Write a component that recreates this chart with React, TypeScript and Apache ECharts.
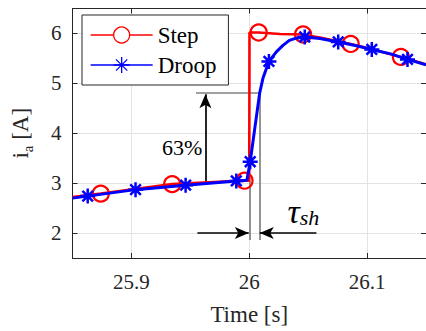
import React, { useEffect, useRef } from 'react';
import * as echarts from 'echarts';

// Step response (red, circles)
const stepTime = [25.85, 25.874, 25.9346, 25.996, 26.0, 26.0002, 26.008, 26.026, 26.0457, 26.062, 26.0861, 26.1, 26.1287, 26.15];
const stepCurrent = [2.72, 2.79, 2.98, 3.05, 3.05, 6.02, 6.02, 5.99, 5.98, 5.91, 5.79, 5.71, 5.53, 5.38];
const stepMarker = [0, 1, 1, 1, 0, 0, 1, 0, 1, 0, 1, 0, 1, 0];

// Droop response (blue, asterisks)
const droopTime = [25.85, 25.8629, 25.9035, 25.946, 25.989, 25.998, 26.0008, 26.0088, 26.0116, 26.0167, 26.023, 26.0286, 26.034, 26.0405, 26.0471, 26.06, 26.0755, 26.09, 26.104, 26.12, 26.1343, 26.15];
const droopCurrent = [2.7, 2.74, 2.87, 2.96, 3.045, 3.06, 3.43, 4.8, 5.1, 5.44, 5.63, 5.76, 5.86, 5.91, 5.93, 5.9, 5.83, 5.76, 5.68, 5.59, 5.48, 5.37];
const droopMarker = [0, 1, 1, 1, 1, 0, 1, 0, 0, 1, 0, 0, 0, 0, 1, 0, 1, 0, 1, 0, 1, 0];

// Axis ranges
const xRange = [25.85, 26.15];
const yRange = [1.5, 6.5];

// Annotation values
const level63 = 4.82;
const tStep = 26.0;
const tTau = 26.0085;
const arrowT = 25.9628;
const arrowBase = 3.0;
const arrowTip = 4.78;
const tauArrowY = 2.0;
const tauLeftStart = 25.956;
const tauRightStart = 26.057;
const guideBottom = 1.86;
const label63 = [25.9431, 3.716];
const labelTau = [26.046, 2.43];

const SERIF = 'Liberation Serif, Times New Roman, serif';
const AXIS = '#262626';
const GRID = '#e3e3e3';
const GUIDE = '#808080';
const ASTERISK = 'path://M0,-10L0,10M-10,0L10,0M-7.07,-7.07L7.07,7.07M-7.07,7.07L7.07,-7.07';

function build(t: number[], v: number[], m: number[]) {
  return t.map((x, i) => (m[i] ? { value: [x, v[i]] } : { value: [x, v[i]], symbol: 'none' }));
}

const tickRich = { v: { fontFamily: SERIF, fontSize: 21, color: AXIS } };

export default function App() {
  const ref = useRef<HTMLDivElement>(null);
  useEffect(() => {
    if (!ref.current) return;
    const chart = echarts.init(ref.current, null, { renderer: 'svg' });
    const axisCommon = {
      type: 'value' as const,
      axisLine: { show: true, lineStyle: { color: AXIS, width: 1 } },
      axisTick: { show: true, inside: true, length: 5, lineStyle: { color: AXIS, width: 1 } },
    };
    chart.setOption({
      animation: false,
      backgroundColor: '#fff',
      textStyle: { fontFamily: SERIF },
      grid: { left: 72.5, top: 8.5, right: 0, bottom: 68.5, containLabel: false },
      xAxis: [
        {
          ...axisCommon,
          min: xRange[0], max: xRange[1], splitNumber: 3,
          position: 'bottom',
          name: 'Time [s]', nameLocation: 'middle', nameGap: 45,
          nameTextStyle: { fontFamily: SERIF, fontSize: 23, color: AXIS },
          axisLabel: {
            show: true, showMinLabel: false, showMaxLabel: false, margin: 13,
            fontFamily: SERIF, fontSize: 21, color: AXIS,
            formatter: '{v|{value}}', rich: tickRich,
          },
          splitLine: { show: true, lineStyle: { color: GRID, width: 1 } },
        },
        {
          ...axisCommon,
          min: xRange[0], max: xRange[1], splitNumber: 3,
          position: 'top',
          axisLabel: { show: false },
          splitLine: { show: false },
        },
      ],
      yAxis: [
        {
          ...axisCommon,
          min: yRange[0], max: yRange[1], splitNumber: 5,
          position: 'left',
          name: '{i|i}{a|a}{n| [A]}', nameLocation: 'middle', nameGap: 37, nameRotate: 90,
          nameTextStyle: {
            fontFamily: SERIF, fontSize: 23, color: AXIS,
            rich: {
              i: { fontFamily: SERIF, fontSize: 23, lineHeight: 30, color: AXIS },
              a: { fontFamily: SERIF, fontSize: 15, lineHeight: 15, verticalAlign: 'bottom', color: AXIS },
              n: { fontFamily: SERIF, fontSize: 23, lineHeight: 30, color: AXIS },
            },
          },
          axisLabel: {
            show: true, showMinLabel: false, showMaxLabel: false, margin: 11,
            fontFamily: SERIF, fontSize: 21, color: AXIS,
            formatter: '{v|{value}}', rich: tickRich,
          },
          splitLine: { show: true, lineStyle: { color: GRID, width: 1 } },
        },
        {
          ...axisCommon,
          min: yRange[0], max: yRange[1], splitNumber: 5,
          position: 'right',
          axisLabel: { show: false },
          splitLine: { show: false },
        },
      ],
      legend: {
        left: 82, top: 15, orient: 'vertical', selectedMode: false,
        backgroundColor: '#fff', borderColor: AXIS, borderWidth: 1, borderRadius: 0,
        padding: [8, 12, 8, 8], itemWidth: 62, itemHeight: 20, itemGap: 6,
        formatter: '{n|{name}}',
        textStyle: {
          fontFamily: SERIF, fontSize: 23, color: '#000', lineHeight: 24,
          rich: { n: { fontFamily: SERIF, fontSize: 23, color: '#000', lineHeight: 24 } },
        },
        data: [
          { name: 'Step', itemStyle: { color: '#fff', borderColor: '#ff0000', borderWidth: 1.3 }, lineStyle: { color: '#ff0000', width: 1.3 } },
          { name: 'Droop', itemStyle: { color: '#0000ff', borderColor: '#0000ff', borderWidth: 1.3 }, lineStyle: { color: '#0000ff', width: 1.3 } },
        ],
      },
      series: [
        {
          name: 'annotations', type: 'line', data: [], z: 1, silent: true,
          markLine: {
            silent: true, z: 1, animation: false, symbol: 'none', label: { show: false },
            lineStyle: { color: GUIDE, width: 1.7, type: 'solid' },
            emphasis: { disabled: true },
            data: [
              [{ coord: [25.9548, level63] }, { coord: [tTau, level63] }],
              [{ coord: [tStep, 3.05] }, { coord: [tStep, guideBottom] }],
              [{ coord: [tTau, level63] }, { coord: [tTau, guideBottom] }],
              [
                { coord: [arrowT, arrowBase], symbol: 'none', lineStyle: { color: '#000', width: 1.7 } },
                { coord: [arrowT, arrowTip], symbol: 'arrow', symbolSize: [9, 14] },
              ],
              [
                { coord: [tauLeftStart, tauArrowY], symbol: 'none', lineStyle: { color: '#000', width: 1.7 } },
                { coord: [tStep - 0.0004, tauArrowY], symbol: 'arrow', symbolSize: [9, 14] },
              ],
              [
                { coord: [tauRightStart, tauArrowY], symbol: 'none', lineStyle: { color: '#000', width: 1.7 } },
                { coord: [tTau + 0.0004, tauArrowY], symbol: 'arrow', symbolSize: [9, 14] },
              ],
            ],
          },
          markPoint: {
            silent: true, z: 20, symbol: 'circle', symbolSize: 0, animation: false,
            label: { show: true, position: 'inside', fontFamily: SERIF, color: '#000' },
            data: [
              {
                coord: label63,
                label: {
                  formatter: '{p|63%}',
                  rich: { p: { fontFamily: SERIF, fontSize: 22, color: '#000' } },
                },
              },
              {
                coord: labelTau,
                label: {
                  formatter: '{t|τ}{s|sh}',
                  rich: {
                    t: { fontFamily: SERIF, fontStyle: 'italic', fontSize: 34, color: '#000', lineHeight: 34 },
                    s: { fontFamily: SERIF, fontStyle: 'italic', fontSize: 22, color: '#000', lineHeight: 22, verticalAlign: 'bottom' },
                  },
                },
              },
            ],
          },
        },
        {
          name: 'Step', type: 'line', z: 10,
          data: build(stepTime, stepCurrent, stepMarker),
          symbol: 'circle', symbolSize: 16, showSymbol: true, showAllSymbol: true,
          itemStyle: { color: 'rgba(255,255,255,0)', borderColor: '#ff0000', borderWidth: 2.2 },
          lineStyle: { color: '#ff0000', width: 2.6 },
          emphasis: { disabled: true },
        },
        {
          name: 'Droop', type: 'line', z: 11,
          data: build(droopTime, droopCurrent, droopMarker),
          symbol: ASTERISK, symbolSize: 15, showSymbol: true, showAllSymbol: true,
          itemStyle: { color: '#0000ff', borderColor: '#0000ff', borderWidth: 2.5 },
          lineStyle: { color: '#0000ff', width: 3 },
          emphasis: { disabled: true },
        },
      ],
    });
    return () => chart.dispose();
  }, []);
  return <div ref={ref} style={{ position: 'fixed', left: 0, top: 0, width: 426, height: 331 }} />;
}
